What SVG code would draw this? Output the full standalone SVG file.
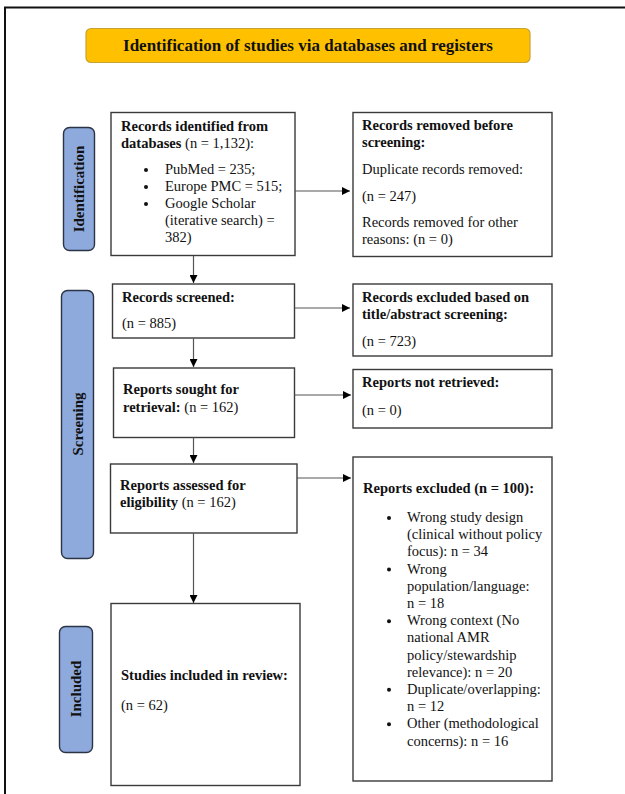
<svg xmlns="http://www.w3.org/2000/svg" width="625" height="794" viewBox="0 0 625 794">
<defs>
<marker id="ah" viewBox="0 0 10 10" refX="10" refY="5" markerWidth="8" markerHeight="8" markerUnits="userSpaceOnUse" orient="auto">
<path d="M0,0 L10,5 L0,10 z" fill="#000"/>
</marker>
<style>
.box{fill:#fff;stroke:#3a3a3a;stroke-width:1.4}
.lab{fill:#8EA9DB;stroke:#2b3445;stroke-width:1.4}
.t{font-family:"Liberation Serif","Times New Roman",serif;font-size:14.5px;fill:#111}
.b{font-weight:bold}
.lt{font-family:"Liberation Serif","Times New Roman",serif;font-size:15px;font-weight:bold;fill:#111;text-anchor:middle}
.c{fill:none;stroke:#555;stroke-width:1.2;marker-end:url(#ah)}
</style>
</defs>
<rect width="625" height="794" fill="#fff"/>
<rect x="5" y="7.5" width="640" height="800" fill="none" stroke="#111" stroke-width="2"/>

<g id="title">
<rect x="86" y="28.5" width="444" height="34" rx="5" fill="#FFC000" stroke="#C8A232" stroke-width="1.2"/>
<text x="308" y="51" class="t b" text-anchor="middle" style="font-size:17px">Identification of studies via databases and registers</text>
</g>

<g id="label-identification">
<rect x="63.5" y="127.5" width="31" height="123" rx="6" class="lab"/>
<text class="lt" transform="translate(84,189) rotate(-90)">Identification</text>
</g>
<g id="label-screening">
<rect x="61.5" y="290.5" width="32" height="268" rx="6" class="lab"/>
<text class="lt" transform="translate(83,424) rotate(-90)">Screening</text>
</g>
<g id="label-included">
<rect x="59.5" y="626.5" width="33" height="126" rx="6" class="lab"/>
<text class="lt" transform="translate(81,689) rotate(-90)">Included</text>
</g>

<g id="records-identified">
<rect x="111" y="112.5" width="184" height="143" class="box"/>
<text class="t"><tspan x="121" y="131" class="b">Records identified from</tspan><tspan x="121" y="148"><tspan class="b">databases</tspan> (n = 1,132):</tspan></text>
<g class="t">
<circle cx="146" cy="170" r="2"/><circle cx="146" cy="187" r="2"/><circle cx="146" cy="204" r="2"/>
</g>
<text class="t"><tspan x="165" y="174">PubMed = 235;</tspan><tspan x="165" y="191">Europe PMC = 515;</tspan><tspan x="165" y="208">Google Scholar</tspan><tspan x="165" y="225">(iterative search) =</tspan><tspan x="165" y="242">382)</tspan></text>
</g>

<g id="records-removed">
<rect x="353" y="112.5" width="199" height="144" class="box"/>
<text class="t"><tspan x="362" y="130" class="b">Records removed before</tspan><tspan x="362" y="147" class="b">screening:</tspan><tspan x="362" y="174">Duplicate records removed:</tspan><tspan x="362" y="201">(n = 247)</tspan><tspan x="362" y="227">Records removed for other</tspan><tspan x="362" y="244">reasons: (n = 0)</tspan></text>
</g>

<g id="records-screened">
<rect x="112.5" y="284" width="182" height="54" class="box"/>
<text class="t"><tspan x="122" y="302" class="b">Records screened:</tspan><tspan x="122" y="328">(n = 885)</tspan></text>
</g>

<g id="records-excluded">
<rect x="353" y="284" width="199" height="72" class="box"/>
<text class="t"><tspan x="362" y="302" class="b">Records excluded based on</tspan><tspan x="362" y="319" class="b">title/abstract screening:</tspan><tspan x="362" y="346">(n = 723)</tspan></text>
</g>

<g id="reports-sought">
<rect x="113.5" y="368" width="181" height="69.5" class="box"/>
<text class="t"><tspan x="123" y="394" class="b">Reports sought for</tspan><tspan x="123" y="412"><tspan class="b">retrieval:</tspan> (n = 162)</tspan></text>
</g>

<g id="reports-not-retrieved">
<rect x="353" y="369.5" width="199" height="58.5" class="box"/>
<text class="t"><tspan x="362" y="387" class="b">Reports not retrieved:</tspan><tspan x="362" y="415">(n = 0)</tspan></text>
</g>

<g id="reports-assessed">
<rect x="110.5" y="464" width="186.5" height="69" class="box"/>
<text class="t"><tspan x="120" y="490" class="b">Reports assessed for</tspan><tspan x="120" y="507"><tspan class="b">eligibility</tspan> (n = 162)</tspan></text>
</g>

<g id="reports-excluded">
<rect x="353" y="457" width="199" height="324" class="box"/>
<text class="t"><tspan x="363" y="493" class="b">Reports excluded (n = 100):</tspan></text>
<g class="t">
<circle cx="389" cy="518" r="2"/><circle cx="389" cy="569.6" r="2"/><circle cx="389" cy="621.2" r="2"/><circle cx="389" cy="689.8" r="2"/><circle cx="389" cy="724.2" r="2"/>
</g>
<text class="t"><tspan x="407" y="522">Wrong study design</tspan><tspan x="407" y="539.2">(clinical without policy</tspan><tspan x="407" y="556.4">focus): n = 34</tspan><tspan x="407" y="573.6">Wrong</tspan><tspan x="407" y="590.8">population/language:</tspan><tspan x="407" y="608">n = 18</tspan><tspan x="407" y="625.2">Wrong context (No</tspan><tspan x="407" y="642.4">national AMR</tspan><tspan x="407" y="659.6">policy/stewardship</tspan><tspan x="407" y="676.8">relevance): n = 20</tspan><tspan x="407" y="694">Duplicate/overlapping:</tspan><tspan x="407" y="711.2">n = 12</tspan><tspan x="407" y="728.4">Other (methodological</tspan><tspan x="407" y="745.6">concerns): n = 16</tspan></text>
</g>

<g id="studies-included">
<rect x="111" y="603.5" width="189" height="182" class="box"/>
<text class="t"><tspan x="121" y="680" class="b">Studies included in review:</tspan><tspan x="121" y="710">(n = 62)</tspan></text>
</g>

<g id="connectors">
<line x1="295" y1="191" x2="350" y2="191" class="c"/>
<line x1="193.5" y1="256" x2="193.5" y2="283" class="c"/>
<line x1="294.5" y1="308" x2="350" y2="308" class="c"/>
<line x1="193.5" y1="338" x2="193.5" y2="367" class="c"/>
<line x1="294.5" y1="395" x2="351" y2="395" class="c"/>
<line x1="193.5" y1="437.5" x2="193.5" y2="463" class="c"/>
<line x1="297" y1="478" x2="351" y2="478" class="c"/>
<line x1="193.5" y1="533" x2="193.5" y2="603" class="c"/>
</g>
</svg>
